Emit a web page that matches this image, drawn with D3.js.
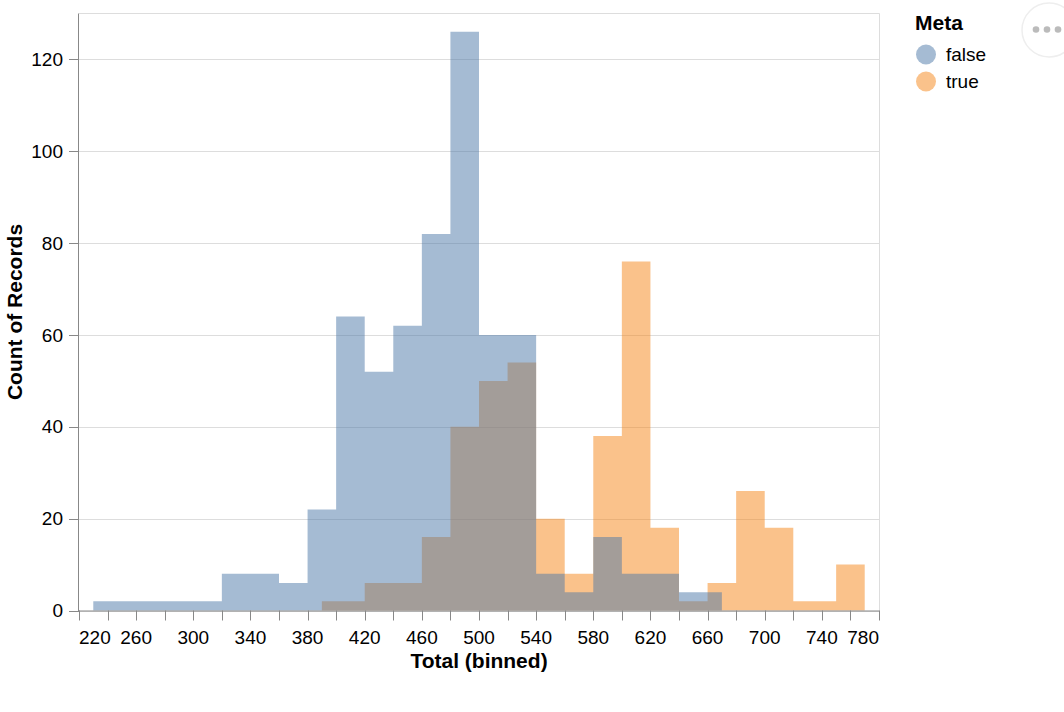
<!DOCTYPE html>
<html>
<head>
<meta charset="utf-8">
<script src="https://cdn.jsdelivr.net/npm/d3@7"></script>
<style>
  html, body { margin: 0; padding: 0; background: #fff; }
  svg { display: block; font-family: Helvetica, Arial, "Liberation Sans", sans-serif; }
</style>
</head>
<body>
<svg id="chart" width="1064" height="712"></svg>
<script>
// Bin midpoints (bin width 20) and counts per Meta group
const falseMids   = [230,250,270,290,310,330,350,370,390,410,430,450,470,490,510,530,550,570,590,610,630,650,670];
const falseCounts = [2,2,2,2,2,8,8,6,22,64,52,62,82,126,60,60,8,4,16,8,8,4,4];
const trueMids    = [390,410,430,450,470,490,510,530,550,570,590,610,630,650,670,690,710,730,770];
const trueCounts  = [2,2,6,6,16,40,50,54,20,8,38,76,18,2,6,26,18,2,10];
const xTicks = d3.range(220, 781, 20);
const xLabels = [220,260,300,340,380,420,460,500,540,580,620,660,700,740,780];
const yTicks = [0,20,40,60,80,100,120];
const groups = ["false","true"];
const colors = ["#4c78a8","#f58518"];

const svg = d3.select("#chart");
const L = 79, R = 879, T = 13.5, B = 610.5;
const x = d3.scaleLinear().domain([220, 780]).range([L, R]);
const y = d3.scaleLinear().domain([0, 130]).range([B, T]);
const color = d3.scaleOrdinal().domain(groups).range(colors);

// grid
svg.append("g").selectAll("line").data(yTicks).join("line")
  .attr("x1", L).attr("x2", R)
  .attr("y1", d => Math.round(y(d)) + 0.5).attr("y2", d => Math.round(y(d)) + 0.5)
  .attr("stroke", "#ddd").attr("stroke-width", 1);
// view border (top/right)
svg.append("path")
  .attr("d", `M${L},${T}H${R + 0.5}V${B}`)
  .attr("fill", "none").attr("stroke", "#ddd");

const area = d3.area().curve(d3.curveStep)
  .x(d => x(d[0])).y0(y(0)).y1(d => y(d[1]));

const trueData = trueMids.map((m, i) => [m, trueCounts[i]]);
const falseData = falseMids.map((m, i) => [m, falseCounts[i]]);

svg.append("path").datum(trueData).attr("d", area)
  .attr("fill", color("true")).attr("fill-opacity", 0.5);
svg.append("path").datum(falseData).attr("d", area)
  .attr("fill", color("false")).attr("fill-opacity", 0.5);

// x axis
const gx = svg.append("g");
gx.append("line").attr("x1", L).attr("x2", R + 0.5).attr("y1", B + 0.5).attr("y2", B + 0.5)
  .attr("stroke", "#888");
gx.selectAll("line.tick").data(xTicks).join("line").attr("class", "tick")
  .attr("x1", d => Math.round(x(d)) + 0.5).attr("x2", d => Math.round(x(d)) + 0.5)
  .attr("y1", B).attr("y2", B + 10).attr("stroke", "#888");
gx.selectAll("text").data(xLabels).join("text")
  .attr("x", d => x(d)).attr("y", 644)
  .attr("text-anchor", (d, i) => i === 0 ? "start" : (i === xLabels.length - 1 ? "end" : "middle"))
  .attr("font-size", 19).attr("fill", "#000")
  .text(d => d);
gx.append("text").attr("x", (L + R) / 2).attr("y", 668)
  .attr("text-anchor", "middle").attr("font-size", 21).attr("font-weight", "bold")
  .text("Total (binned)");

// y axis
const gy = svg.append("g");
gy.append("line").attr("x1", L - 0.5).attr("x2", L - 0.5).attr("y1", T).attr("y2", B + 1)
  .attr("stroke", "#888");
gy.selectAll("line.tick").data(yTicks).join("line").attr("class", "tick")
  .attr("x1", L - 10).attr("x2", L)
  .attr("y1", d => Math.round(y(d)) + 0.5).attr("y2", d => Math.round(y(d)) + 0.5)
  .attr("stroke", "#888");
gy.selectAll("text").data(yTicks).join("text")
  .attr("x", 63).attr("y", d => y(d))
  .attr("dy", "0.35em")
  .attr("text-anchor", "end").attr("font-size", 19).attr("fill", "#000")
  .text(d => d);
gy.append("text")
  .attr("transform", `translate(21.5,${(T + B) / 2}) rotate(-90)`)
  .attr("text-anchor", "middle").attr("font-size", 21).attr("font-weight", "bold")
  .text("Count of Records");

// legend
const lg = svg.append("g");
lg.append("text").attr("x", 915).attr("y", 30)
  .attr("font-size", 21).attr("font-weight", "bold").text("Meta");
const items = lg.selectAll("g.item").data(groups).join("g").attr("class", "item")
  .attr("transform", (d, i) => `translate(0,${54.5 + i * 27})`);
items.append("circle").attr("cx", 926).attr("cy", 0).attr("r", 10)
  .attr("fill", d => color(d)).attr("fill-opacity", 0.5);
items.append("text").attr("x", 946).attr("y", 0).attr("dy", "0.35em")
  .attr("font-size", 19).text(d => d);

// actions button
const ab = svg.append("g");
ab.append("circle").attr("cx", 1049).attr("cy", 30).attr("r", 27)
  .attr("fill", "#fff").attr("stroke", "#eee").attr("stroke-width", 1.5);
ab.selectAll("circle.dot").data([-11, 0, 11]).join("circle").attr("class", "dot")
  .attr("cx", d => 1047 + d).attr("cy", 29.5).attr("r", 3.3).attr("fill", "#bbb");
</script>
</body>
</html>
